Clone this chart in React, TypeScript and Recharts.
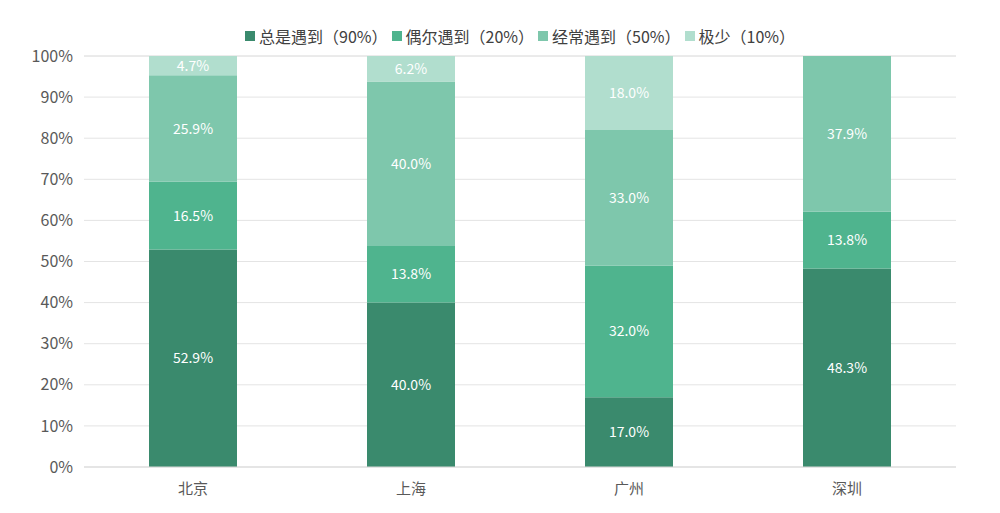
import React from 'react';
import {
  BarChart,
  Bar,
  XAxis,
  YAxis,
  CartesianGrid,
  Legend,
  LabelList,
} from 'recharts';

const cities = ['北京', '上海', '广州', '深圳'];
const always = [52.9, 40.0, 17.0, 48.3];
const sometimes = [16.5, 13.8, 32.0, 13.8];
const often = [25.9, 40.0, 33.0, 37.9];
const rarely = [4.7, 6.2, 18.0, 0];
const yTicks = [0, 10, 20, 30, 40, 50, 60, 70, 80, 90, 100];

const seriesKeys = ['always', 'sometimes', 'often', 'rarely'];
const seriesNames = ['总是遇到（90%）', '偶尔遇到（20%）', '经常遇到（50%）', '极少（10%）'];
const seriesColors = ['#3a8a6d', '#4fb48e', '#7ec7ac', '#b1dece'];

const data = cities.map((city, i) => ({
  city,
  always: always[i],
  sometimes: sometimes[i],
  often: often[i],
  rarely: rarely[i],
}));

const font = '"Noto Sans CJK SC", "Noto Sans", sans-serif';
const fmt = (v: any) => (v ? `${Number(v).toFixed(1)}%` : '');

// legend kept in series order (recharts sorts its own by name)
const renderLegend = () => (
  <div style={{ display: 'flex', justifyContent: 'center', gap: 4, fontSize: 16, color: '#404040', lineHeight: '20px' }}>
    {seriesNames.map((name, i) => (
      <div key={name} style={{ display: 'flex', alignItems: 'center' }}>
        <span style={{ display: 'inline-block', width: 10, height: 10, background: seriesColors[i], marginRight: 4 }} />
        <span>{name}</span>
      </div>
    ))}
  </div>
);

const App: React.FC = () => {
  return (
    <div style={{ position: 'fixed', left: 0, top: 0, width: 1000, height: 513, background: '#fff', fontFamily: font }}>
      <BarChart width={1000} height={513} data={data} margin={{ top: 36, right: 44, bottom: 16, left: 0 }}>
        <CartesianGrid vertical={false} stroke="#e4e4e4" />
        <XAxis
          dataKey="city"
          axisLine={{ stroke: '#d9d9d9' }}
          tickLine={false}
          tick={{ fill: '#595959', fontSize: 15 }}
          tickMargin={10}
        />
        <YAxis
          width={84}
          domain={[0, 100]}
          ticks={yTicks}
          tickFormatter={(v: number) => `${v}%`}
          axisLine={false}
          tickLine={false}
          tick={{ fill: '#595959', fontSize: 16 }}
          tickMargin={5}
        />
        <Legend verticalAlign="top" height={20} wrapperStyle={{ top: 26, left: 84, width: 872 }} content={renderLegend} />
        {seriesKeys.map((key, i) => (
          <Bar key={key} dataKey={key} name={seriesNames[i]} stackId="a" fill={seriesColors[i]} barSize={88} isAnimationActive={false}>
            <LabelList dataKey={key} position="center" formatter={fmt} fill="#fff" fontSize={14} />
          </Bar>
        ))}
      </BarChart>
    </div>
  );
};

export default App;
